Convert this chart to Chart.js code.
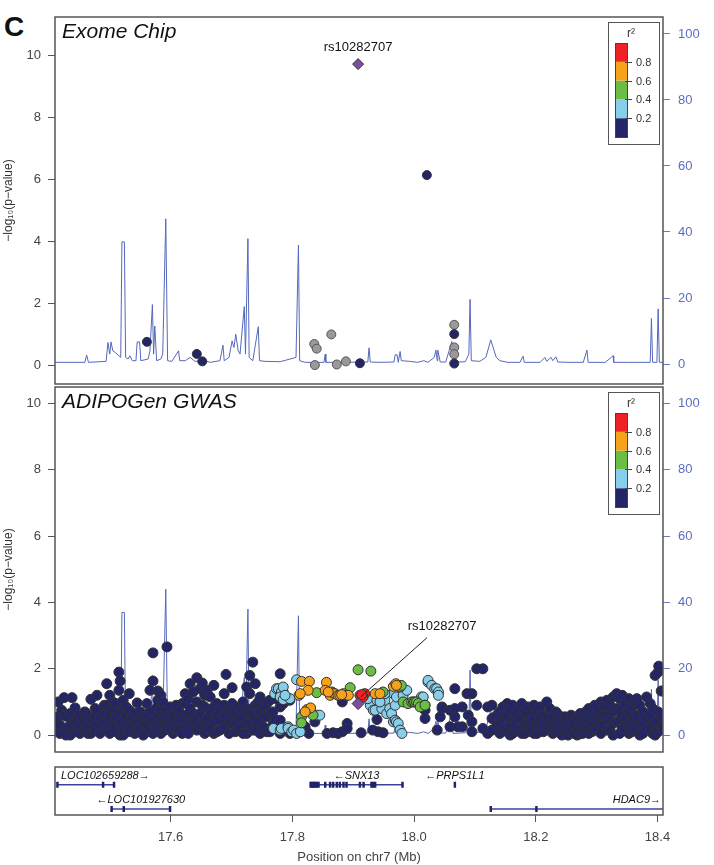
<!DOCTYPE html>
<html>
<head>
<meta charset="utf-8">
<script src="https://cdn.jsdelivr.net/npm/chart.js@4"></script>
<style>
  body { margin: 0; background: #fff; width: 714px; height: 865px; position: relative; overflow: hidden;
         font-family: "Liberation Sans", Arial, Helvetica, sans-serif; }
  canvas { position: absolute; left: 0; }
  #tag { position: absolute; left: 4px; top: 13px; font-size: 28px; line-height: 28px; font-weight: bold; color: #111; }
</style>
</head>
<body>
<div id="tag">C</div>
<canvas id="exome" width="714" height="391" style="top:0"></canvas>
<canvas id="gwas" width="714" height="380" style="top:380px"></canvas>
<canvas id="genes" width="714" height="107" style="top:758px"></canvas>
<script>
(function () {
  const FONT = '"Liberation Sans", Arial, Helvetica, sans-serif';
  const X_MIN = 17.41, X_MAX = 18.409;
  const LEAD_SNP = 'rs10282707';

  // r2 legend
  const r2Colors = ['#232566', '#87CEEB', '#6CBD45', '#F7A21B', '#EE2226'];
  const r2Breaks = [0.2, 0.4, 0.6, 0.8];

  // recombination rate (cM/Mb), [position Mb, rate]
  const recombination = [
    [17.410,0.5],[17.459,0.5],[17.462,2.7],[17.465,0.5],[17.494,0.8],[17.497,6.5],[17.500,3],[17.502,6.7],
    [17.505,4],[17.509,3.5],[17.512,3],[17.518,2],[17.520,37],[17.524,37],[17.526,2],[17.530,1.5],
    [17.533,2.5],[17.537,1],[17.543,1],[17.545,6.7],[17.549,6.7],[17.551,1],[17.563,1.5],[17.566,4],
    [17.570,18],[17.572,3],[17.574,11.5],[17.577,1],[17.584,1.5],[17.587,3],[17.592,44],[17.595,1],
    [17.602,0.8],[17.613,4],[17.615,1],[17.624,1],[17.632,2],[17.640,0.8],[17.656,1],[17.665,0.5],
    [17.681,1],[17.686,5.7],[17.688,1],[17.696,2],[17.701,7],[17.704,5],[17.707,9],[17.711,4],
    [17.714,3],[17.721,17.4],[17.723,3],[17.727,38],[17.729,2],[17.735,1],[17.744,11.3],[17.746,1],
    [17.755,0.8],[17.780,0.7],[17.806,2],[17.810,36],[17.812,1],[17.821,0.5],[17.852,0.5],[17.854,3],
    [17.855,0.5],[17.878,0.5],[17.924,0.6],[17.926,4.9],[17.928,0.6],[17.944,0.5],[17.967,0.6],[17.969,2.8],
    [17.972,2.8],[17.974,0.5],[17.977,3.8],[17.979,1],[17.993,0.8],[18.006,0.5],[18.016,1],[18.023,0.5],
    [18.033,2],[18.036,4.2],[18.038,1],[18.039,4.2],[18.043,0.6],[18.052,0.6],[18.062,6.8],[18.064,0.5],
    [18.084,0.7],[18.090,3],[18.092,19.6],[18.094,1],[18.108,0.8],[18.118,2],[18.126,7.3],[18.135,2],
    [18.141,1],[18.154,0.5],[18.174,0.5],[18.179,2.4],[18.181,0.5],[18.207,0.5],[18.215,2],[18.218,0.8],
    [18.225,2],[18.228,1],[18.233,2.2],[18.236,0.6],[18.256,0.5],[18.278,0.5],[18.284,4.2],[18.286,0.5],
    [18.314,0.5],[18.324,2],[18.327,2.5],[18.328,0.5],[18.351,0.5],[18.371,0.5],[18.388,0.5],[18.390,13.8],
    [18.392,0.5],[18.399,0.5],[18.401,16.7],[18.403,0.5],[18.409,0.5]
  ];

  // Exome chip: [position Mb, -log10 p]
  const exomeLead = [[17.908, 9.71]];
  const exomeNoLD = [[17.836,0.68],[17.840,0.53],[17.864,0.99],[17.837,0.0],[17.873,0.02],[17.888,0.12],
    [18.066,1.30],[18.066,0.57],[18.066,0.35]];
  const exomeLow = [[17.561,0.75],[17.643,0.36],[17.652,0.12],[17.911,0.06],[18.066,1.0],[18.066,0.05],[18.021,6.13]];

  // ADIPOGen GWAS by r2 bin
  const gwasLead = [[17.908, 0.95]];
  const gwasRed = [[17.911,1.20],[17.919,1.25],[17.916,1.15],[17.914,1.22]];
  const gwasOrange = [[17.815,1.62],[17.828,1.62],[17.826,1.35],[17.811,1.20],[17.813,1.25],[17.856,1.59],
    [17.854,1.35],[17.862,1.20],[17.865,1.30],[17.867,1.27],[17.870,1.25],[17.875,1.20],[17.878,1.20],
    [17.884,1.25],[17.889,1.20],[17.892,1.20],[17.824,0.77],[17.830,0.82],[17.821,0.70],[17.936,1.25],
    [17.944,1.25],[17.966,1.47],[17.970,1.55],[17.971,1.50],[17.859,1.30],[17.881,1.22]];
  const gwasGreen = [[17.908,1.97],[17.929,1.93],[17.895,1.43],[17.840,1.28],[17.815,0.55],[17.815,0.37],
    [17.834,0.60],[17.949,1.30],[17.977,1.45],[17.979,1.50],[17.982,1.00],[17.990,0.95],[17.996,1.00],
    [17.999,1.00],[18.001,1.00],[18.004,1.00],[18.007,0.95],[18.010,0.85],[18.018,0.90]];
  const gwasLightBlue = [[17.771,1.25],[17.774,1.40],[17.777,1.40],[17.782,1.30],[17.785,1.45],[17.780,1.15],
    [17.785,1.07],[17.796,1.10],[17.807,1.67],[17.788,1.20],[17.769,0.20],[17.780,0.15],[17.782,0.20],
    [17.793,0.25],[17.793,0.20],[17.799,0.10],[17.802,0.15],[17.807,0.05],[17.813,0.10],[17.840,0.60],
    [17.845,0.60],[17.928,0.90],[17.933,0.75],[17.936,0.75],[17.941,1.10],[17.947,0.80],[17.952,1.05],
    [17.955,0.65],[17.960,0.80],[17.963,0.65],[17.969,0.90],[17.966,0.40],[17.969,0.45],[17.971,0.40],
    [17.974,0.35],[17.977,0.15],[17.980,0.05],[17.966,1.25],[17.952,1.25],[17.971,1.15],[17.982,1.20],
    [17.988,1.35],[18.012,1.15],[18.015,1.15],[18.018,0.90],[18.023,1.60],[18.023,1.65],[18.029,1.50],
    [18.034,1.40],[18.037,1.40],[18.040,1.30],[18.040,1.20],[17.919,1.15],[17.924,1.10],[17.939,1.05],
    [17.944,1.00]];
  const gwasNavy = [
    [17.410,0.40],[17.410,0.10],[17.415,1.00],[17.415,0.55],[17.418,0.05],[17.418,0.30],[17.421,0.75],
    [17.425,1.13],[17.425,0.60],[17.425,0.20],[17.428,0.57],[17.428,0.15],[17.428,0.0],[17.435,0.30],
    [17.435,0.0],[17.435,0.65],[17.438,1.13],[17.438,0.45],[17.443,0.82],[17.443,0.45],[17.443,0.10],
    [17.446,0.50],[17.446,0.25],[17.451,0.25],[17.451,0.60],[17.451,0.05],[17.459,0.40],[17.459,0.15],
    [17.459,0.70],[17.464,0.60],[17.464,0.30],[17.464,0.05],[17.469,1.08],[17.469,0.05],[17.469,0.45],
    [17.476,0.35],[17.476,0.55],[17.476,0.15],[17.476,0.80],[17.479,1.20],[17.479,0.75],[17.484,0.50],
    [17.484,0.25],[17.484,0.05],[17.491,0.65],[17.491,0.35],[17.491,0.90],[17.495,1.55],[17.495,0.90],
    [17.495,0.15],[17.500,1.20],[17.500,0.50],[17.500,0.05],[17.500,0.70],[17.505,0.75],[17.505,0.30],
    [17.505,1.00],[17.510,0.95],[17.510,0.55],[17.510,0.10],[17.515,1.90],[17.515,1.35],[17.515,0.65],
    [17.515,0.35],[17.517,1.63],[17.517,0.40],[17.517,0.0],[17.522,1.05],[17.522,0.80],[17.522,0.20],
    [17.522,0.0],[17.527,0.60],[17.527,0.35],[17.527,0.85],[17.532,1.25],[17.532,0.75],[17.532,0.10],
    [17.532,0.45],[17.537,0.50],[17.537,0.25],[17.541,0.65],[17.541,0.05],[17.541,0.40],[17.545,0.97],
    [17.545,0.40],[17.545,0.15],[17.550,0.70],[17.550,0.20],[17.550,0.50],[17.555,0.55],[17.555,0.0],
    [17.555,0.30],[17.561,0.95],[17.561,0.30],[17.561,0.60],[17.566,1.35],[17.566,0.70],[17.566,0.10],
    [17.566,0.45],[17.571,2.48],[17.571,1.63],[17.571,0.45],[17.571,0.05],[17.576,0.80],[17.576,0.20],
    [17.576,0.55],[17.579,1.33],[17.579,0.60],[17.579,1.05],[17.584,1.20],[17.584,0.35],[17.584,0.05],
    [17.584,0.75],[17.587,1.00],[17.587,0.50],[17.591,0.70],[17.591,0.15],[17.591,0.40],[17.594,2.66],
    [17.594,0.50],[17.594,0.25],[17.599,0.85],[17.599,0.25],[17.599,0.55],[17.604,0.60],[17.604,0.05],
    [17.604,0.35],[17.609,0.90],[17.609,0.40],[17.609,0.15],[17.614,0.70],[17.614,0.15],[17.614,0.45],
    [17.619,0.95],[17.619,0.50],[17.619,0.05],[17.624,1.25],[17.624,0.97],[17.624,0.30],[17.624,0.60],
    [17.629,1.10],[17.629,0.60],[17.629,0.05],[17.629,0.35],[17.632,1.55],[17.632,0.80],[17.632,0.20],
    [17.637,1.30],[17.637,0.40],[17.637,0.65],[17.643,1.73],[17.643,1.00],[17.643,0.15],[17.643,0.50],
    [17.648,1.40],[17.648,0.65],[17.648,0.30],[17.652,1.57],[17.652,0.30],[17.652,0.90],[17.656,1.20],
    [17.656,0.85],[17.656,0.05],[17.656,0.45],[17.660,1.35],[17.660,0.50],[17.660,0.20],[17.665,1.15],
    [17.665,0.70],[17.665,0.20],[17.671,1.50],[17.671,0.85],[17.671,0.40],[17.671,0.05],[17.676,0.95],
    [17.676,0.10],[17.676,0.60],[17.681,0.75],[17.681,0.45],[17.681,0.15],[17.688,1.25],[17.688,0.90],
    [17.688,0.20],[17.688,0.55],[17.691,1.83],[17.691,0.60],[17.696,0.80],[17.696,0.05],[17.696,0.40],
    [17.701,1.43],[17.701,0.95],[17.701,0.35],[17.701,0.65],[17.706,0.70],[17.706,0.10],[17.706,0.40],
    [17.711,0.85],[17.711,0.45],[17.711,0.15],[17.714,0.75],[17.714,0.20],[17.714,0.50],[17.719,1.00],
    [17.719,0.55],[17.719,0.05],[17.725,1.45],[17.725,0.80],[17.725,0.05],[17.725,0.35],[17.730,1.80],
    [17.730,1.25],[17.730,0.35],[17.730,0.65],[17.735,2.20],[17.735,0.60],[17.735,0.15],[17.739,1.55],
    [17.739,0.90],[17.739,0.15],[17.739,0.45],[17.744,1.00],[17.744,0.40],[17.744,0.70],[17.747,1.15],
    [17.747,0.70],[17.747,0.05],[17.752,0.85],[17.752,0.25],[17.752,0.55],[17.758,0.95],[17.758,0.55],
    [17.758,0.10],[17.763,0.66],[17.763,0.10],[17.763,1.05],[17.768,0.70],[17.768,0.30],[17.773,1.10],
    [17.773,0.45],[17.780,1.85],[17.780,0.45],[17.780,0.05],[17.780,0.85],[17.785,1.30],[17.785,0.95],
    [17.796,1.05],[17.796,0.05],[17.821,0.25],[17.827,0.05],[17.837,0.40],[17.857,0.05],[17.867,0.07],
    [17.875,0.05],[17.882,1.00],[17.882,0.10],[17.890,0.35],[17.890,0.20],[17.913,0.07],[17.932,0.15],
    [17.939,0.47],[17.941,0.10],[17.949,0.07],[18.018,0.75],[18.018,0.50],[18.038,0.15],[18.043,0.55],
    [18.046,0.85],[18.046,0.80],[18.059,0.75],[18.059,0.25],[18.067,1.40],[18.067,0.80],[18.067,0.55],
    [18.072,0.25],[18.079,0.85],[18.079,0.25],[18.087,1.25],[18.089,0.60],[18.095,1.25],[18.095,0.40],
    [18.095,0.10],[18.103,2.00],[18.103,0.90],[18.113,2.00],[18.113,0.20],[18.121,0.85],[18.121,0.05],
    [18.128,0.90],[18.128,0.50],[18.128,0.15],[18.136,0.60],[18.136,0.30],
    [18.141,0.70],[18.141,0.35],[18.141,0.05],[18.146,0.85],[18.146,0.20],[18.146,0.50],[18.153,0.95],
    [18.153,0.55],[18.153,0.10],[18.158,0.75],[18.158,0.30],[18.158,0.0],[18.162,0.90],[18.162,0.05],
    [18.162,0.45],[18.167,0.60],[18.167,0.40],[18.167,0.15],[18.172,0.80],[18.172,0.15],[18.172,0.50],
    [18.177,0.95],[18.177,0.50],[18.177,0.05],[18.182,0.70],[18.182,0.05],[18.182,0.35],[18.187,0.85],
    [18.187,0.35],[18.187,0.10],[18.192,0.60],[18.192,0.15],[18.192,0.40],[18.197,0.90],[18.197,0.45],
    [18.197,0.05],[18.202,0.75],[18.202,0.05],[18.202,0.30],[18.207,0.85],[18.207,0.30],[18.207,0.55],
    [18.212,0.60],[18.212,0.10],[18.212,0.35],[18.218,1.00],[18.218,0.50],[18.218,0.15],[18.223,0.80],
    [18.223,0.20],[18.223,0.45],[18.228,0.55],[18.228,0.05],[18.228,0.30],[18.233,0.70],[18.233,0.35],
    [18.233,0.10],[18.238,0.60],[18.238,0.10],[18.238,0.35],[18.243,0.45],[18.243,0.20],[18.243,0.0],
    [18.248,0.55],[18.248,0.05],[18.248,0.30],[18.253,0.40],[18.253,0.25],[18.253,0.0],[18.258,0.60],
    [18.258,0.10],[18.258,0.35],[18.263,0.35],[18.263,0.05],[18.268,0.55],[18.268,0.20],[18.268,0.0],
    [18.273,0.65],[18.273,0.30],[18.273,0.05],[18.277,0.50],[18.277,0.05],[18.277,0.25],[18.282,0.70],
    [18.282,0.20],[18.282,0.45],[18.287,0.80],[18.287,0.40],[18.287,0.05],[18.292,0.65],[18.292,0.10],
    [18.292,0.35],[18.297,0.90],[18.297,0.45],[18.297,0.15],[18.302,0.75],[18.302,0.20],[18.302,0.50],
    [18.307,1.00],[18.307,0.55],[18.307,0.05],[18.307,0.30],[18.312,0.85],[18.312,0.30],[18.312,0.60],
    [18.317,1.05],[18.317,0.60],[18.317,0.15],[18.322,0.90],[18.322,0.15],[18.322,0.45],[18.327,1.15],
    [18.327,0.70],[18.327,0.35],[18.327,0.0],[18.333,1.25],[18.333,0.80],[18.333,0.40],[18.338,1.10],
    [18.338,0.45],[18.338,0.05],[18.338,0.75],[18.342,1.20],[18.342,0.60],[18.342,0.20],[18.347,0.95],
    [18.347,0.25],[18.347,0.55],[18.353,1.10],[18.353,0.70],[18.353,0.05],[18.353,0.35],[18.358,0.85],
    [18.358,0.40],[18.358,0.10],[18.363,1.00],[18.363,0.15],[18.363,0.50],[18.366,1.10],[18.366,0.60],
    [18.371,0.90],[18.371,0.30],[18.371,0.0],[18.376,0.70],[18.376,0.05],[18.376,0.40],[18.382,1.15],
    [18.382,0.50],[18.382,0.20],[18.388,0.95],[18.388,0.20],[18.388,0.60],[18.392,0.80],[18.392,0.05],
    [18.392,0.35],[18.396,1.80],[18.396,0.40],[18.396,0.0],[18.401,1.90],[18.401,0.70],[18.401,0.10],
    [18.402,2.08],[18.406,1.33],[18.406,0.55],[18.406,0.25],[18.409,1.33],[18.409,0.20]
  ];

  // genes
  const geneNames  = ['LOC102659288', 'LOC101927630', 'SNX13', 'PRPS1L1', 'HDAC9'];
  const geneStrand = ['+', '-', '-', '-', '+'];
  const geneStart  = [17.414, 17.503, 17.830, 18.067, 18.126];
  const geneEnd    = [17.507, 17.599, 17.981, 18.067, 19.036];
  const geneRow    = [0, 1, 0, 0, 1];
  const geneExons  = [
    [17.414, 17.489, 17.507],
    [17.503, 17.523, 17.599],
    [17.830, 17.832, 17.834, 17.836, 17.838, 17.840, 17.843, 17.854, 17.862, 17.867, 17.873, 17.878,
     17.884, 17.889, 17.911, 17.917, 17.930, 17.933, 17.936, 17.981],
    [18.067],
    [18.126, 18.201]
  ];
  const ROW_Y = [0.63, 0.125];

  const toXY = arr => arr.map(([x, y]) => ({ x, y }));

  // keep the plot boxes where the picture has them
  const noPad = s => { s.paddingTop = 0; s.paddingBottom = 0; s.paddingLeft = 0; s.paddingRight = 0; };

  function pts(data, color, radius, order, extra) {
    return Object.assign({
      data: toXY(data), backgroundColor: color, borderColor: '#333', borderWidth: 1,
      pointRadius: radius, order: order, yAxisID: 'y'
    }, extra || {});
  }

  function recombSet() {
    return {
      data: toXY(recombination), yAxisID: 'y2', showLine: true, pointRadius: 0,
      borderColor: '#5468BC', borderWidth: 1, order: 20
    };
  }

  function yLeft(min, max) {
    return {
      position: 'left', min, max,
      afterFit: s => { s.width = 55; noPad(s); },
      border: { display: false },
      grid: { drawOnChartArea: false, tickLength: 7, color: '#555' },
      ticks: { stepSize: 2, includeBounds: false, color: '#444', font: { family: FONT, size: 13 }, padding: 7 },
      title: { display: true, text: '\u2212log\u2081\u2080(p\u2212value)', color: '#333',
               font: { family: FONT, size: 12 }, padding: { top: 1, bottom: 0 } }
    };
  }

  function yRight(min, max) {
    return {
      position: 'right', min, max,
      afterFit: s => { s.width = 51; noPad(s); },
      border: { display: false },
      grid: { drawOnChartArea: false, tickLength: 7, color: '#6A7CC8' },
      ticks: { stepSize: 20, includeBounds: false, color: '#5A6EC0', font: { family: FONT, size: 13 }, padding: 8 }
    };
  }

  // box round the plot, title, r2 legend
  function panelPlugin(title, labelFn) {
    return {
      id: 'panel',
      afterDraw(chart) {
        const { ctx, chartArea: a } = chart;
        ctx.save();
        ctx.strokeStyle = '#555';
        ctx.lineWidth = 1.5;
        ctx.strokeRect(a.left, a.top, a.right - a.left, a.bottom - a.top);

        ctx.fillStyle = '#111';
        ctx.font = 'italic 21px ' + FONT;
        ctx.textBaseline = 'alphabetic';
        ctx.fillText(title, a.left + 7, a.top + 21);

        // legend
        const bx = a.right - 55, by = a.top + 5, bw = 51, bh = 122;
        ctx.fillStyle = '#fff';
        ctx.fillRect(bx, by, bw, bh);
        ctx.lineWidth = 1;
        ctx.strokeStyle = '#555';
        ctx.strokeRect(bx + 0.5, by + 0.5, bw, bh);
        const barX = bx + 7, barW = 12, barTop = by + 21, segH = 18.8;
        r2Colors.forEach((c, i) => {
          ctx.fillStyle = c;
          ctx.fillRect(barX, barTop + (4 - i) * segH, barW, segH);
        });
        ctx.strokeStyle = '#444';
        ctx.strokeRect(barX + 0.5, barTop + 0.5, barW, segH * 5);
        ctx.font = '11px ' + FONT;
        ctx.fillStyle = '#333';
        ctx.textBaseline = 'middle';
        r2Breaks.forEach((b, i) => {
          const yy = Math.round(barTop + (4 - i) * segH) + 0.5;
          ctx.beginPath();
          ctx.moveTo(barX + barW - 2, yy);
          ctx.lineTo(barX + barW + 5, yy);
          ctx.stroke();
          ctx.fillText(b.toFixed(1), barX + barW + 9, yy);
        });
        ctx.font = '12px ' + FONT;
        ctx.textAlign = 'center';
        ctx.fillText('r\u00B2', barX + 16, by + 12);
        ctx.restore();
        if (labelFn) labelFn(chart);
      }
    };
  }

  // exome chip panel
  new Chart(document.getElementById('exome'), {
    type: 'scatter',
    data: {
      datasets: [
        recombSet(),
        pts(exomeNoLD, '#999999', 4.5, 3, { borderColor: '#555' }),
        pts(exomeLow, r2Colors[0], 4.5, 2),
        pts(exomeLead, '#7B4F9E', 5.5, 0, { pointStyle: 'rectRot' })
      ]
    },
    options: {
      responsive: false, animation: false, devicePixelRatio: 1, events: [],
      layout: { padding: { top: 17, bottom: 7, left: 0, right: 0 } },
      plugins: { legend: { display: false }, tooltip: { enabled: false } },
      scales: {
        x: { type: 'linear', min: X_MIN, max: X_MAX, display: false },
        y: yLeft(-0.61, 11.23),
        y2: yRight(-6.06, 105.15)
      }
    },
    plugins: [panelPlugin('Exome Chip', chart => {
      const p = chart.getDatasetMeta(3).data[0];
      const ctx = chart.ctx;
      ctx.save();
      ctx.font = '13px ' + FONT;
      ctx.fillStyle = '#111';
      ctx.textAlign = 'center';
      ctx.fillText(LEAD_SNP, p.x, p.y - 13);
      ctx.restore();
    })]
  });

  // ADIPOGen GWAS panel
  new Chart(document.getElementById('gwas'), {
    type: 'scatter',
    data: {
      datasets: [
        recombSet(),
        pts(gwasNavy, r2Colors[0], 5, 6),
        pts(gwasLightBlue, r2Colors[1], 5, 5),
        pts(gwasGreen, r2Colors[2], 5, 4),
        pts(gwasOrange, r2Colors[3], 5, 3),
        pts(gwasRed, r2Colors[4], 5, 2),
        pts(gwasLead, '#7B4F9E', 6, 0, { pointStyle: 'rectRot' })
      ]
    },
    options: {
      responsive: false, animation: false, devicePixelRatio: 1, events: [],
      layout: { padding: { top: 6, bottom: 8, left: 0, right: 0 } },
      plugins: { legend: { display: false }, tooltip: { enabled: false } },
      scales: {
        x: { type: 'linear', min: X_MIN, max: X_MAX, display: false },
        y: yLeft(-0.51, 10.5),
        y2: yRight(-5.1, 105.0)
      }
    },
    plugins: [panelPlugin('ADIPOGen GWAS', chart => {
      const p = chart.getDatasetMeta(6).data[0];
      const ctx = chart.ctx;
      ctx.save();
      ctx.strokeStyle = '#222';
      ctx.lineWidth = 1;
      ctx.beginPath();
      ctx.moveTo(p.x + 3, p.y - 7);
      ctx.lineTo(p.x + 69, p.y - 66);
      ctx.stroke();
      ctx.font = '13px ' + FONT;
      ctx.fillStyle = '#111';
      ctx.textAlign = 'center';
      ctx.fillText(LEAD_SNP, p.x + 84, p.y - 74);
      ctx.restore();
    })]
  });

  // gene track
  const geneSets = geneNames.map((name, i) => ({
    data: [{ x: geneStart[i], y: ROW_Y[geneRow[i]] }, { x: geneEnd[i], y: ROW_Y[geneRow[i]] }],
    showLine: true, pointRadius: 0, borderColor: '#3A449C', borderWidth: 1.5, order: 2
  }));
  const exonSet = {
    data: geneExons.flatMap((ex, i) => ex.map(x => ({ x, y: ROW_Y[geneRow[i]] }))),
    pointStyle: 'line', pointRotation: 90, pointRadius: 3, borderColor: '#1F2468', borderWidth: 2.5, order: 1
  };

  new Chart(document.getElementById('genes'), {
    type: 'scatter',
    data: { datasets: geneSets.concat([exonSet]) },
    options: {
      responsive: false, animation: false, devicePixelRatio: 1, events: [],
      layout: { padding: { top: 9, bottom: 0, left: 55, right: 51 } },
      plugins: { legend: { display: false }, tooltip: { enabled: false } },
      scales: {
        x: {
          type: 'linear', min: X_MIN, max: X_MAX, position: 'bottom',
          afterFit: s => { s.height = 50; noPad(s); },
          border: { display: false },
          grid: { drawOnChartArea: false, tickLength: 7, color: '#555' },
          ticks: { stepSize: 0.2, includeBounds: false, color: '#444', font: { family: FONT, size: 13 }, padding: 8 },
          title: { display: true, text: 'Position on chr7 (Mb)', color: '#444',
                   font: { family: FONT, size: 13 }, padding: { top: 0, bottom: 0 } }
        },
        y: { min: 0, max: 1, display: false }
      }
    },
    plugins: [{
      id: 'geneLabels',
      afterDraw(chart) {
        const { ctx, chartArea: a, scales: { x, y } } = chart;
        ctx.save();
        ctx.font = 'italic 11px ' + FONT;
        ctx.fillStyle = '#111';
        ctx.textBaseline = 'middle';
        geneNames.forEach((name, i) => {
          const text = geneStrand[i] === '+' ? name + '\u2192' : '\u2190' + name;
          const w = ctx.measureText(text).width;
          const mid = x.getPixelForValue((geneStart[i] + geneEnd[i]) / 2);
          const left = Math.min(Math.max(mid - w / 2, a.left + 6), a.right - 2 - w);
          ctx.fillText(text, left, y.getPixelForValue(ROW_Y[geneRow[i]]) - 9);
        });
        ctx.strokeStyle = '#555';
        ctx.lineWidth = 1.5;
        ctx.strokeRect(a.left, a.top, a.right - a.left, a.bottom - a.top);
        ctx.restore();
      }
    }]
  });
})();
</script>
</body>
</html>
